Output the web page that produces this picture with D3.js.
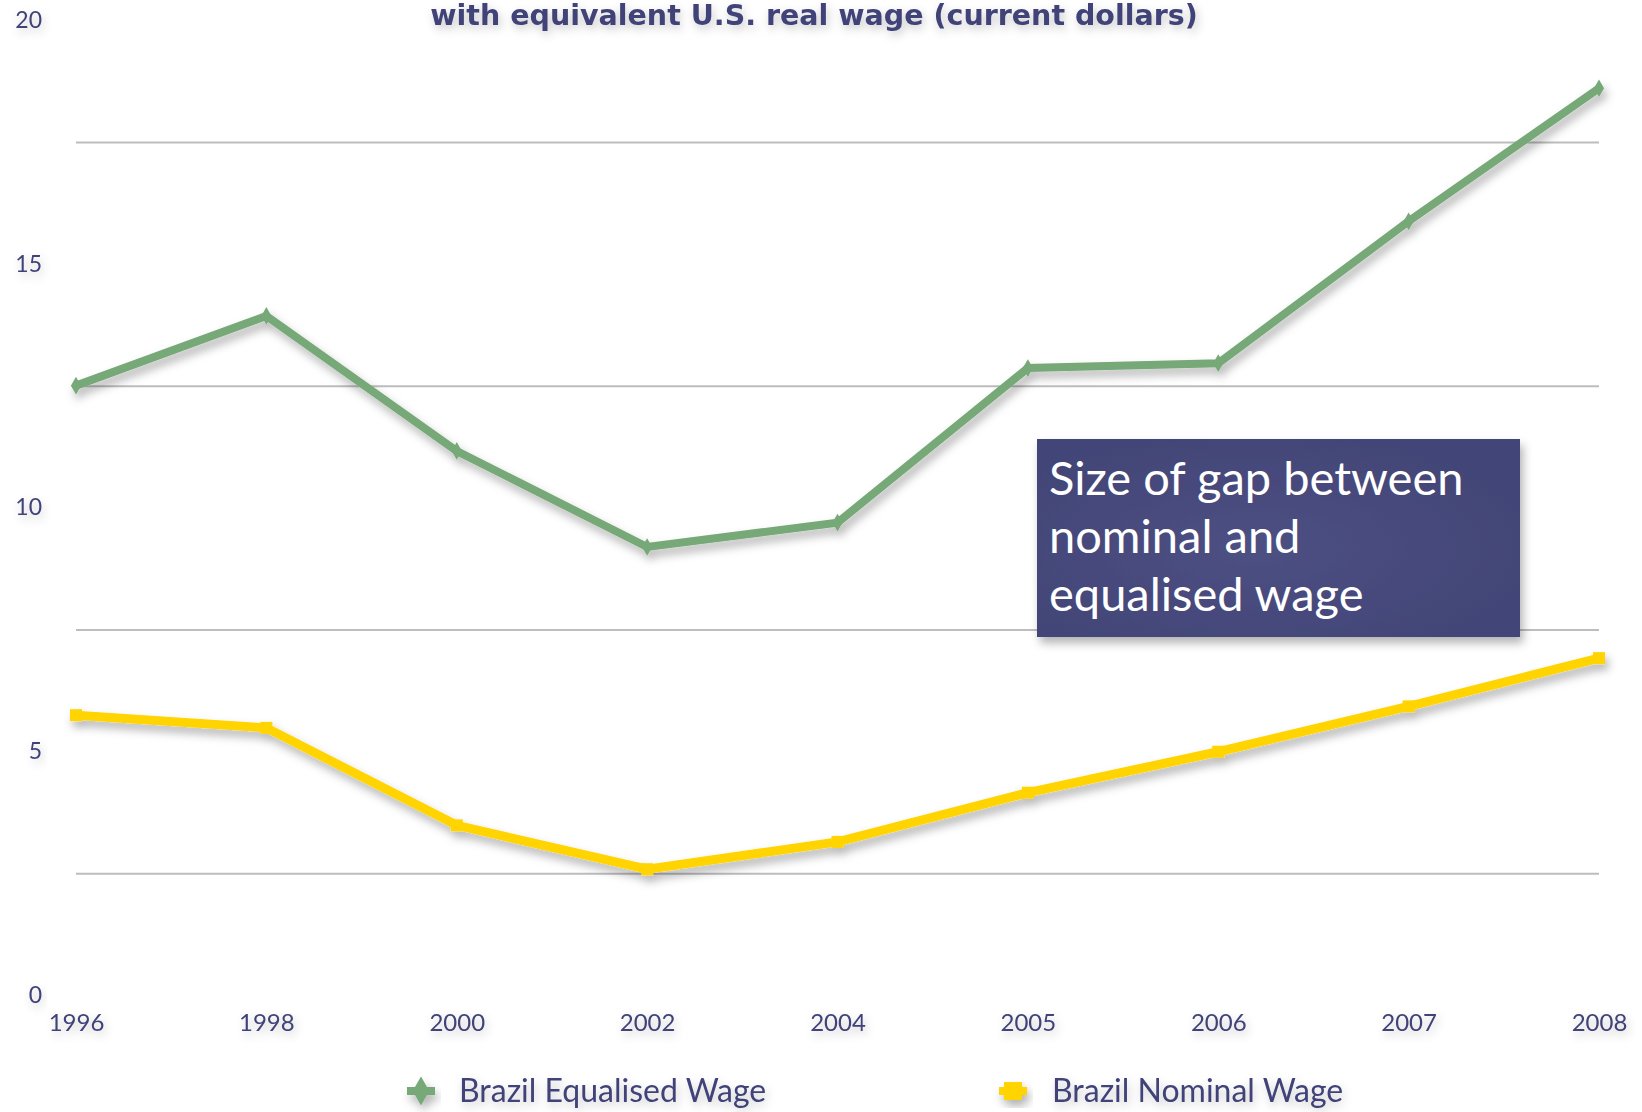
<!DOCTYPE html>
<html>
<head>
<meta charset="utf-8">
<script src="https://cdn.jsdelivr.net/npm/d3@7/dist/d3.min.js"></script>
<style>
  html, body { margin: 0; padding: 0; background: #ffffff; }
  svg { display: block; }
</style>
</head>
<body>
<svg id="chart" width="1642" height="1112"></svg>
<script>
// Brazil wage series (current dollars)
const years = ["1996", "1998", "2000", "2002", "2004", "2005", "2006", "2007", "2008"];
const equalisedWage = [12.5, 13.93, 11.16, 9.19, 9.69, 12.86, 12.96, 15.87, 18.6];
const nominalWage   = [5.74, 5.48, 3.48, 2.58, 3.14, 4.15, 4.99, 5.92, 6.91];
const seriesNames = ["Brazil Equalised Wage", "Brazil Nominal Wage"];
const yTickValues = [0, 5, 10, 15, 20];
const gridValues = [2.5, 7.5, 12.5, 17.5];
const titleText = "with equivalent U.S. real wage (current dollars)";
const noteLines = ["Size of gap between", "nominal and", "equalised wage"];

const ink = "#3f4278";
const green = "#77a878";
const yellow = "#ffd400";
const font = "Lato, 'Open Sans', sans-serif";

const svg = d3.select("#chart");
const defs = svg.append("defs");

defs.append("filter").attr("id", "shadow")
  .attr("x", "-20%").attr("y", "-20%").attr("width", "140%").attr("height", "160%")
  .append("feDropShadow")
  .attr("dx", 3).attr("dy", 6).attr("stdDeviation", 5)
  .attr("flood-color", "#000").attr("flood-opacity", 0.3);

defs.append("filter").attr("id", "textShadow")
  .attr("x", "-30%").attr("y", "-50%").attr("width", "160%").attr("height", "220%")
  .append("feDropShadow")
  .attr("dx", 2).attr("dy", 4).attr("stdDeviation", 5)
  .attr("flood-color", "#000").attr("flood-opacity", 0.22);

const boxGrad = defs.append("radialGradient").attr("id", "boxFill")
  .attr("cx", "45%").attr("cy", "55%").attr("r", "60%");
boxGrad.append("stop").attr("offset", "0%").attr("stop-color", "#4d5083");
boxGrad.append("stop").attr("offset", "100%").attr("stop-color", "#424577");

const x = d3.scalePoint().domain(years).range([76, 1599]);
const y = d3.scaleLinear().domain([0, 20]).range([995, 20]);

// horizontal gridlines
svg.append("g")
  .attr("transform", "translate(76,0)")
  .call(d3.axisRight(y).tickValues(gridValues).tickSize(1599 - 76).tickFormat(""))
  .call(g => g.select(".domain").remove())
  .call(g => g.selectAll("line").attr("stroke", "#bdbdbd").attr("stroke-width", 2));

// y-axis labels
svg.append("g")
  .attr("transform", "translate(42,0)")
  .call(d3.axisLeft(y).tickValues(yTickValues).tickSize(0).tickPadding(0))
  .call(g => g.select(".domain").remove())
  .call(g => g.selectAll("text")
    .attr("fill", ink).attr("font-family", font).attr("font-size", 23)
    .attr("filter", "url(#textShadow)"));

// x-axis labels
svg.append("g")
  .attr("transform", "translate(0,1014)")
  .call(d3.axisBottom(x).tickSize(0).tickPadding(0))
  .call(g => g.select(".domain").remove())
  .call(g => g.selectAll("text")
    .attr("fill", ink).attr("font-family", font).attr("font-size", 24)
    .attr("filter", "url(#textShadow)"));

// title (second line of the heading)
svg.append("text")
  .attr("x", 814).attr("y", 25)
  .attr("text-anchor", "middle")
  .attr("fill", ink)
  .attr("font-family", "'DejaVu Sans', Verdana, sans-serif")
  .attr("font-weight", "bold")
  .attr("font-size", 28.5)
  .attr("filter", "url(#textShadow)")
  .text(titleText);

const line = d3.line().x((d, i) => x(years[i])).y(d => y(d));

// equalised wage line
const gEq = svg.append("g").attr("filter", "url(#shadow)");
gEq.append("path").datum(equalisedWage)
  .attr("d", line).attr("fill", "none")
  .attr("stroke", green).attr("stroke-width", 8)
  .attr("stroke-linejoin", "miter");
gEq.selectAll("path.pt").data(equalisedWage).join("path")
  .attr("class", "pt")
  .attr("transform", (d, i) => `translate(${x(years[i])},${y(d)})`)
  .attr("d", d3.symbol(d3.symbolDiamond, 90))
  .attr("fill", green);

// nominal wage line
const gNom = svg.append("g").attr("filter", "url(#shadow)");
gNom.append("path").datum(nominalWage)
  .attr("d", line).attr("fill", "none")
  .attr("stroke", yellow).attr("stroke-width", 9)
  .attr("stroke-linejoin", "miter");
gNom.selectAll("rect").data(nominalWage).join("rect")
  .attr("x", (d, i) => x(years[i]) - 6)
  .attr("y", d => y(d) - 6)
  .attr("width", 12).attr("height", 12)
  .attr("fill", yellow);

// annotation box
const note = svg.append("g");
note.append("rect")
  .attr("x", 1037).attr("y", 439).attr("width", 483).attr("height", 198)
  .attr("fill", "url(#boxFill)")
  .attr("filter", "url(#shadow)");
note.selectAll("text").data(noteLines).join("text")
  .attr("x", 1049)
  .attr("y", (d, i) => 495 + i * 58)
  .attr("fill", "#ffffff")
  .attr("font-family", font)
  .attr("font-size", 47)
  .text(d => d);

// legend
const legend = svg.append("g");
const legendItems = [
  { name: seriesNames[0], color: green, cx: 421, tx: 459, shape: "diamond" },
  { name: seriesNames[1], color: yellow, cx: 1013, tx: 1052, shape: "square" }
];
legendItems.forEach(it => {
  const g = legend.append("g").attr("filter", "url(#shadow)");
  g.append("line")
    .attr("x1", it.cx - 14).attr("x2", it.cx + 14)
    .attr("y1", 1091).attr("y2", 1091)
    .attr("stroke", it.color).attr("stroke-width", 8);
  if (it.shape === "diamond") {
    g.append("path")
      .attr("transform", `translate(${it.cx},1091)`)
      .attr("d", d3.symbol(d3.symbolDiamond, 240))
      .attr("fill", it.color);
  } else {
    g.append("rect")
      .attr("x", it.cx - 9).attr("y", 1082)
      .attr("width", 18).attr("height", 18)
      .attr("fill", it.color);
  }
  legend.append("text")
    .attr("x", it.tx).attr("y", 1102)
    .attr("fill", ink)
    .attr("font-family", font)
    .attr("font-size", 32)
    .attr("filter", "url(#textShadow)")
    .text(it.name);
});
</script>
</body>
</html>
